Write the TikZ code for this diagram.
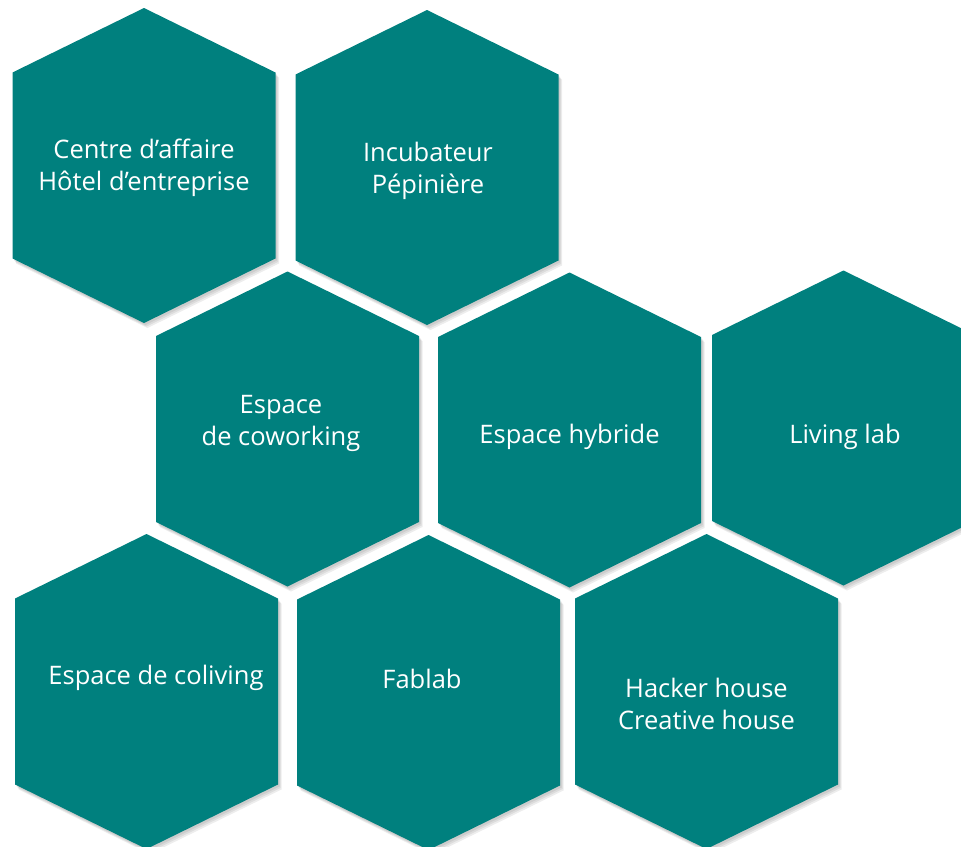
\documentclass[tikz,border=0pt]{standalone}
\usepackage{fontspec}
\setmainfont{Open Sans}
\definecolor{hexteal}{RGB}{0,128,126}
\tikzset{
  hexbody/.style={fill=hexteal},
  hexshade/.style={fill=black, opacity=0.07},
  hexlabel/.style={text=white, font=\fontsize{25.6}{32}\selectfont, align=center, inner sep=0pt, anchor=base}
}
\newcommand\hexpath[2]{(#1,#2-157.5) -- ++(131.5,64.5) -- ++(0,186) -- ++(-131.5,64.5) -- ++(-131.5,-64.5) -- ++(0,-186) -- cycle}
\newcommand\hexcell[2]{%
  \fill[hexshade] \hexpath{#1+1.5}{#2+2};
  \fill[hexshade] \hexpath{#1+2.5}{#2+3.5};
  \fill[hexshade] \hexpath{#1+3.5}{#2+5};
  \fill[hexbody] \hexpath{#1}{#2};
}
\begin{document}
\begin{tikzpicture}[x=1bp, y=-1bp]
\useasboundingbox (0,0) rectangle (961,847);
\clip (0,0) rectangle (961,847);
\fill[white] (0,0) rectangle (961,847);
\hexcell{144}{165.5}
\hexcell{427}{167.5}
\hexcell{287.5}{429}
\hexcell{569.5}{430}
\hexcell{843.5}{428}
\hexcell{146.5}{691.5}
\hexcell{428.5}{692.5}
\hexcell{706.5}{691.5}
\node[hexlabel] (centre) at (144,190) {Centre d’affaire\\Hôtel d’entreprise};
\node[hexlabel] (incub) at (428,193) {Incubateur\\Pépinière};
\node[hexlabel] (cowork) at (281,445) {Espace\\de coworking};
\node[hexlabel] (hybride) at (569.5,443) {Espace hybride};
\node[hexlabel] (living) at (845,443) {Living lab};
\node[hexlabel] (coliving) at (156,684) {Espace de coliving};
\node[hexlabel] (fablab) at (422,688) {Fablab};
\node[hexlabel] (hacker) at (706.5,729) {Hacker house\\Creative house};
\end{tikzpicture}
\end{document}
